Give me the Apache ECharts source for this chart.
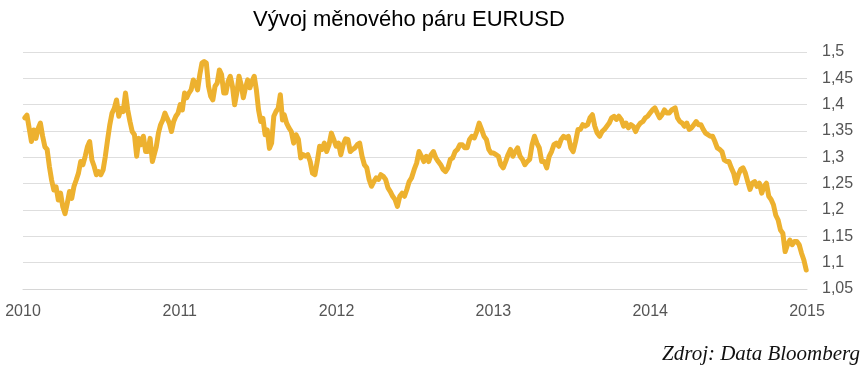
<!DOCTYPE html>
<html>
<head>
<meta charset="utf-8">
<script src="https://cdn.jsdelivr.net/npm/echarts@6/dist/echarts.min.js"></script>
<style>
html,body{margin:0;padding:0;background:#fff;}
#chart{width:864px;height:373px;}
</style>
</head>
<body>
<div id="chart"></div>
<script>
// Titles and labels
const titleText = 'Vývoj měnového páru EURUSD';
const sourceText = 'Zdroj: Data Bloomberg';
const yearTicks = [2010, 2011, 2012, 2013, 2014, 2015];

// EURUSD values, read in six consecutive stretches; each stretch has its start/end (fractional year)
const segA = { from: 2010.011, to: 2010.825, values: [
  1.375, 1.38, 1.355, 1.33, 1.352, 1.336, 1.355, 1.365, 1.34, 1.32,
  1.315, 1.283, 1.257, 1.238, 1.244, 1.219, 1.232, 1.206, 1.193, 1.213,
  1.235, 1.222, 1.245, 1.257, 1.27, 1.292, 1.286, 1.302, 1.32, 1.33,
  1.295, 1.283, 1.267, 1.273, 1.267, 1.276, 1.302, 1.333, 1.362, 1.384,
  1.393, 1.409, 1.378, 1.393, 1.387, 1.422, 1.39, 1.368, 1.349, 1.343,
  1.302, 1.336, 1.324, 1.34, 1.311, 1.311, 1.336, 1.292 ] };
const segB = { from: 2010.836, to: 2011.655, values: [
  1.295, 1.32, 1.346, 1.362, 1.371, 1.384, 1.374, 1.365, 1.349, 1.368,
  1.378, 1.384, 1.4, 1.39, 1.422, 1.413, 1.422, 1.428, 1.447, 1.441,
  1.428, 1.457, 1.479, 1.482, 1.479, 1.435, 1.416, 1.409, 1.435, 1.441,
  1.466, 1.457, 1.422, 1.422, 1.444, 1.454, 1.435, 1.4, 1.422, 1.454,
  1.438, 1.413, 1.432, 1.447, 1.432, 1.444, 1.454, 1.428, 1.39, 1.368,
  1.374, 1.343, 1.352, 1.317, 1.327, 1.378, 1.387, 1.393, 1.419, 1.371 ] };
const segC = { from: 2011.666, to: 2012.478, values: [
  1.381, 1.365, 1.356, 1.349, 1.327, 1.343, 1.334, 1.299, 1.305, 1.302,
  1.305, 1.292, 1.27, 1.267, 1.292, 1.321, 1.315, 1.327, 1.311, 1.324,
  1.346, 1.334, 1.321, 1.327, 1.305, 1.324, 1.335, 1.334, 1.311, 1.315,
  1.318, 1.324, 1.327, 1.302, 1.286, 1.28, 1.258, 1.245, 1.254, 1.261,
  1.258, 1.267, 1.264, 1.258, 1.242, 1.235, 1.226, 1.22, 1.207, 1.226,
  1.232, 1.226, 1.239, 1.254, 1.261 ] };
const segD = { from: 2012.495, to: 2013.308, values: [
  1.277, 1.289, 1.311, 1.302, 1.292, 1.302, 1.292, 1.305, 1.311, 1.299,
  1.292, 1.286, 1.277, 1.273, 1.28, 1.296, 1.299, 1.311, 1.315, 1.324,
  1.324, 1.318, 1.318, 1.334, 1.34, 1.337, 1.349, 1.365, 1.353, 1.34,
  1.334, 1.315, 1.308, 1.308, 1.305, 1.302, 1.286, 1.28, 1.292, 1.305,
  1.315, 1.302, 1.311, 1.318, 1.302, 1.296, 1.286, 1.292, 1.296, 1.324,
  1.34, 1.327, 1.318, 1.292 ] };
const segE = { from: 2013.325, to: 2014.137, values: [
  1.292, 1.28, 1.302, 1.311, 1.324, 1.327, 1.321, 1.334, 1.34, 1.337,
  1.34, 1.318, 1.311, 1.33, 1.353, 1.353, 1.362, 1.359, 1.362, 1.375,
  1.381, 1.359, 1.346, 1.34, 1.349, 1.353, 1.359, 1.365, 1.375, 1.378,
  1.372, 1.378, 1.372, 1.359, 1.365, 1.356, 1.362, 1.359, 1.349, 1.359,
  1.365, 1.368, 1.375, 1.378, 1.384, 1.39, 1.394, 1.384, 1.375, 1.381,
  1.39, 1.384, 1.384, 1.39 ] };
const segF = { from: 2014.159, to: 2014.995, values: [
  1.394, 1.375, 1.368, 1.365, 1.359, 1.365, 1.353, 1.356, 1.362, 1.368,
  1.362, 1.362, 1.353, 1.346, 1.343, 1.34, 1.34, 1.33, 1.318, 1.315,
  1.311, 1.295, 1.292, 1.292, 1.28, 1.27, 1.251, 1.267, 1.277, 1.28,
  1.27, 1.254, 1.239, 1.251, 1.254, 1.245, 1.251, 1.232, 1.245, 1.251,
  1.226, 1.22, 1.21, 1.19, 1.181, 1.162, 1.156, 1.121, 1.134, 1.143,
  1.134, 1.14, 1.14, 1.134, 1.118, 1.105, 1.086 ] };

const segments = [segA, segB, segC, segD, segE, segF];
const seriesData = [];
segments.forEach(s => {
  const n = s.values.length;
  s.values.forEach((v, i) => {
    seriesData.push([s.from + (s.to - s.from) * i / (n - 1), v]);
  });
});

const chart = echarts.init(document.getElementById('chart'), null, { renderer: 'canvas' });
chart.setOption({
  animation: false,
  backgroundColor: '#ffffff',
  title: {
    text: titleText,
    left: 404,
    top: 4,
    textAlign: 'center',
    textStyle: { fontFamily: 'Liberation Sans, Arial, sans-serif', fontSize: 22, fontWeight: 'normal', color: '#000' }
  },
  grid: { left: 23, right: 57, top: 52, bottom: 84, containLabel: false },
  xAxis: {
    type: 'value',
    min: yearTicks[0],
    max: yearTicks[yearTicks.length - 1],
    interval: 1,
    axisLine: { show: true, lineStyle: { color: '#d6d6d6', width: 1 } },
    axisTick: { show: false },
    splitLine: { show: false },
    axisLabel: {
      margin: 15,
      color: '#555',
      fontFamily: 'Liberation Sans, Arial, sans-serif',
      fontSize: 16,
      formatter: v => String(Math.round(v))
    }
  },
  yAxis: {
    type: 'value',
    position: 'right',
    min: 1.05,
    max: 1.5,
    interval: 0.05,
    axisLine: { show: false },
    axisTick: { show: false },
    splitLine: { show: true, lineStyle: { color: '#dedede', width: 1 } },
    axisLabel: {
      margin: 15,
      color: '#555',
      fontFamily: 'Liberation Sans, Arial, sans-serif',
      fontSize: 16,
      formatter: v => (Math.round(v * 100) / 100).toString().replace('.', ',')
    }
  },
  series: [{
    type: 'line',
    data: seriesData,
    showSymbol: false,
    smooth: false,
    lineStyle: { color: '#EDB12F', width: 5, join: 'round', cap: 'round' },
    itemStyle: { color: '#EDB12F' }
  }],
  graphic: [{
    type: 'text',
    right: 4,
    top: 344,
    style: {
      text: sourceText,
      font: 'italic 21px "Liberation Serif", "Times New Roman", serif',
      fill: '#111'
    }
  }]
});
</script>
</body>
</html>
